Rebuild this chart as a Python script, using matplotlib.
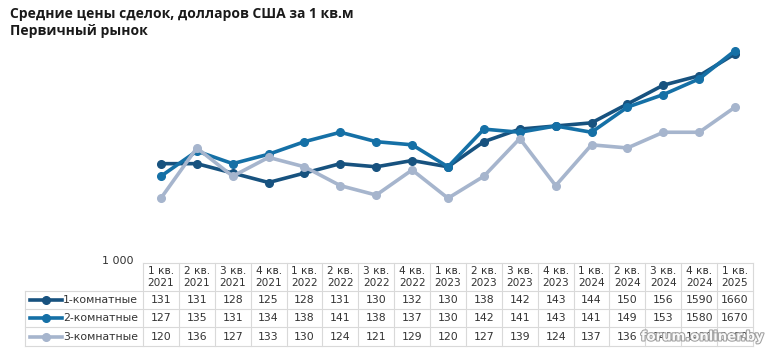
import matplotlib as mpl
mpl.use('agg')
import matplotlib.pyplot as plt
import matplotlib.patheffects as pe
from matplotlib.lines import Line2D

# quarters (table header)
quarters = ['1 кв.\n2021', '2 кв.\n2021', '3 кв.\n2021', '4 кв.\n2021',
            '1 кв.\n2022', '2 кв.\n2022', '3 кв.\n2022', '4 кв.\n2022',
            '1 кв.\n2023', '2 кв.\n2023', '3 кв.\n2023', '4 кв.\n2023',
            '1 кв.\n2024', '2 кв.\n2024', '3 кв.\n2024', '4 кв.\n2024',
            '1 кв.\n2025']

# average price, USD per sq.m
room1 = [1310, 1310, 1280, 1250, 1280, 1310, 1300, 1320, 1300, 1380, 1420, 1430,
         1440, 1500, 1560, 1590, 1660]
room2 = [1270, 1350, 1310, 1340, 1380, 1410, 1380, 1370, 1300, 1420, 1410, 1430,
         1410, 1490, 1530, 1580, 1670]
room3 = [1200, 1360, 1270, 1330, 1300, 1240, 1210, 1290, 1200, 1270, 1390, 1240,
         1370, 1360, 1410, 1410, 1490]

series_names = ['1-комнатные', '2-комнатные', '3-комнатные']
series = [room1, room2, room3]
colors = ['#17527f', '#1570a6', '#a6b5cd']

# the source table drops the last digit up to 3 кв. 2024
n_short = 15

W, H = 769, 359
fig = plt.figure(figsize=(W / 100, H / 100), dpi=100)

def fx(px):
    return px / W

def fy(py):
    return 1 - py / H

# plot area
left, right, top, bottom = 143, 753, 40, 261
ax = fig.add_axes([fx(left), fy(bottom), fx(right - left), (bottom - top) / H])
x = list(range(len(quarters)))
for vals, c in zip(series, colors):
    ax.plot(x, vals, color=c, lw=2.6, marker='o', ms=5.5, solid_capstyle='round')
ax.set_xlim(-0.5, len(quarters) - 0.5)
ax.set_ylim(1000, 1000 + (bottom - top) / 3.14 * 10)
ax.axis('off')

fig.text(fx(10), fy(14), 'Средние цены сделок, долларов США за 1 кв.м',
         fontsize=10, fontweight='bold', family='Open Sans', color='#1a1a1a',
         va='center', ha='left')
fig.text(fx(10), fy(31), 'Первичный рынок',
         fontsize=10, fontweight='bold', family='Open Sans', color='#1a1a1a',
         va='center', ha='left')
fig.text(fx(134), fy(261), '1 000', fontsize=8, color='#333333', ha='right', va='center')

# table
grid = '#d9d9d9'
col_w = (right - left) / len(quarters)
lab_left = 25
h_top, h_bot = 263, 291
row_lines = [291, 309, 327, 346]

def hline(y, x0, x1):
    fig.add_artist(Line2D([fx(x0), fx(x1)], [fy(y), fy(y)], color=grid, lw=0.8))

def vline(xp, y0, y1):
    fig.add_artist(Line2D([fx(xp), fx(xp)], [fy(y0), fy(y1)], color=grid, lw=0.8))

hline(h_top, left, right)
for y in row_lines:
    hline(y, lab_left, right)
vline(lab_left, h_bot, row_lines[-1])
for i in range(len(quarters) + 1):
    vline(left + i * col_w, h_top, row_lines[-1])

for i, q in enumerate(quarters):
    cx = left + (i + 0.5) * col_w
    fig.text(fx(cx), fy((h_top + h_bot) / 2), q, fontsize=7.6, color='#333333',
             ha='center', va='center', linespacing=1.15)

for r, (name, vals, c) in enumerate(zip(series_names, series, colors)):
    cy = (row_lines[r] + row_lines[r + 1]) / 2
    fig.add_artist(Line2D([fx(30), fx(62)], [fy(cy), fy(cy)], color=c, lw=2.6))
    fig.add_artist(Line2D([fx(46)], [fy(cy)], color=c, marker='o', ms=5.5))
    fig.text(fx(63), fy(cy), name, fontsize=7.8, color='#333333', ha='left', va='center')
    for i, v in enumerate(vals):
        txt = str(v // 10) if i < n_short else str(v)
        cx = left + (i + 0.5) * col_w
        fig.text(fx(cx), fy(cy), txt, fontsize=7.8, color='#333333',
                 ha='center', va='center')

# site watermark over the last cells, as in the source image
fig.text(fx(703), fy(337), 'forum.onliner.by', fontsize=9.5, fontweight='bold',
         color='white', ha='center', va='center', alpha=0.95,
         path_effects=[pe.withStroke(linewidth=1.5, foreground='#9a9a9a')])

fig.savefig('out.png', dpi=100)
